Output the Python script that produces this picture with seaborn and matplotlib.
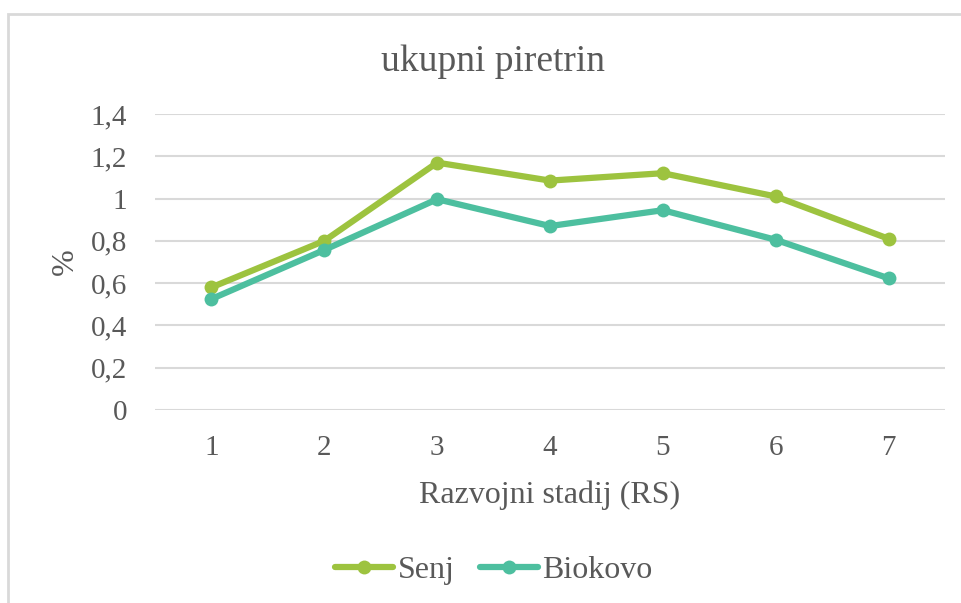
import matplotlib
matplotlib.use("Agg")
import matplotlib.pyplot as plt
from matplotlib.patches import Rectangle
from matplotlib.ticker import FuncFormatter
import numpy as np
import pandas as pd
import seaborn as sns

# values
stadij = [1, 2, 3, 4, 5, 6, 7]
senj = [0.58, 0.80, 1.17, 1.085, 1.12, 1.01, 0.81]
biokovo = [0.525, 0.757, 0.997, 0.87, 0.945, 0.805, 0.623]
serije = ["Senj", "Biokovo"]
boje = {"Senj": "#9DC33F", "Biokovo": "#4DBF9F"}

df = pd.DataFrame({
    "RS": stadij * 2,
    "vrijednost": senj + biokovo,
    "serija": [serije[0]] * len(senj) + [serije[1]] * len(biokovo),
})

sns.set_theme(style="white")
plt.rcParams["font.family"] = ["Liberation Serif", "DejaVu Serif"]
siva = "#595959"

fig = plt.figure(figsize=(9.62, 6.03), dpi=100)
ax = fig.add_axes([155 / 962, 1 - 410 / 603, 790 / 962, 296 / 603])

sns.lineplot(data=df, x="RS", y="vrijednost", hue="serija", palette=boje,
             marker="o", markersize=10, markeredgewidth=0, linewidth=4.5,
             ax=ax, legend=False, zorder=3)

ax.set_xlim(0.5, 7.5)
ax.set_ylim(0, 1.4)
ax.set_xticks(stadij)
ax.set_yticks(np.arange(0, 1.41, 0.2))
ax.yaxis.set_major_formatter(FuncFormatter(lambda v, p: f"{round(v, 1):g}".replace(".", ",")))
ax.grid(axis="y", color="#D9D9D9", linewidth=1.5, zorder=0)
ax.grid(axis="x", visible=False)
for s in ax.spines.values():
    s.set_visible(False)
ax.tick_params(axis="both", length=0, labelsize=21, colors=siva)
ax.tick_params(axis="y", pad=20)
ax.tick_params(axis="x", pad=18)
ax.set_xlabel("Razvojni stadij (RS)", fontsize=23, color=siva, labelpad=14)
ax.set_ylabel("%", fontsize=23, color=siva, labelpad=8)

fig.text(493 / 962, 1 - 62 / 603, "ukupni piretrin", fontsize=27, color=siva,
         ha="center", va="center")

handles = [plt.Line2D([], [], color=boje[s], linewidth=4.5, marker="o",
                      markersize=10, markeredgewidth=0) for s in serije]
leg = fig.legend(handles, serije, loc="center", bbox_to_anchor=(494 / 962, 1 - 570 / 603),
                 ncol=2, frameon=False, fontsize=23, handlelength=1.8,
                 handletextpad=0.15, columnspacing=0.8)
for t in leg.get_texts():
    t.set_color(siva)

# chart border (only left and top edges visible in the crop)
fig.patches.append(Rectangle((8 / 962, -0.1), 1.2, 1 - 14 / 603 + 0.1,
                             transform=fig.transFigure, fill=False,
                             edgecolor="#D9D9D9", linewidth=2))

fig.savefig("out.png", dpi=100)
